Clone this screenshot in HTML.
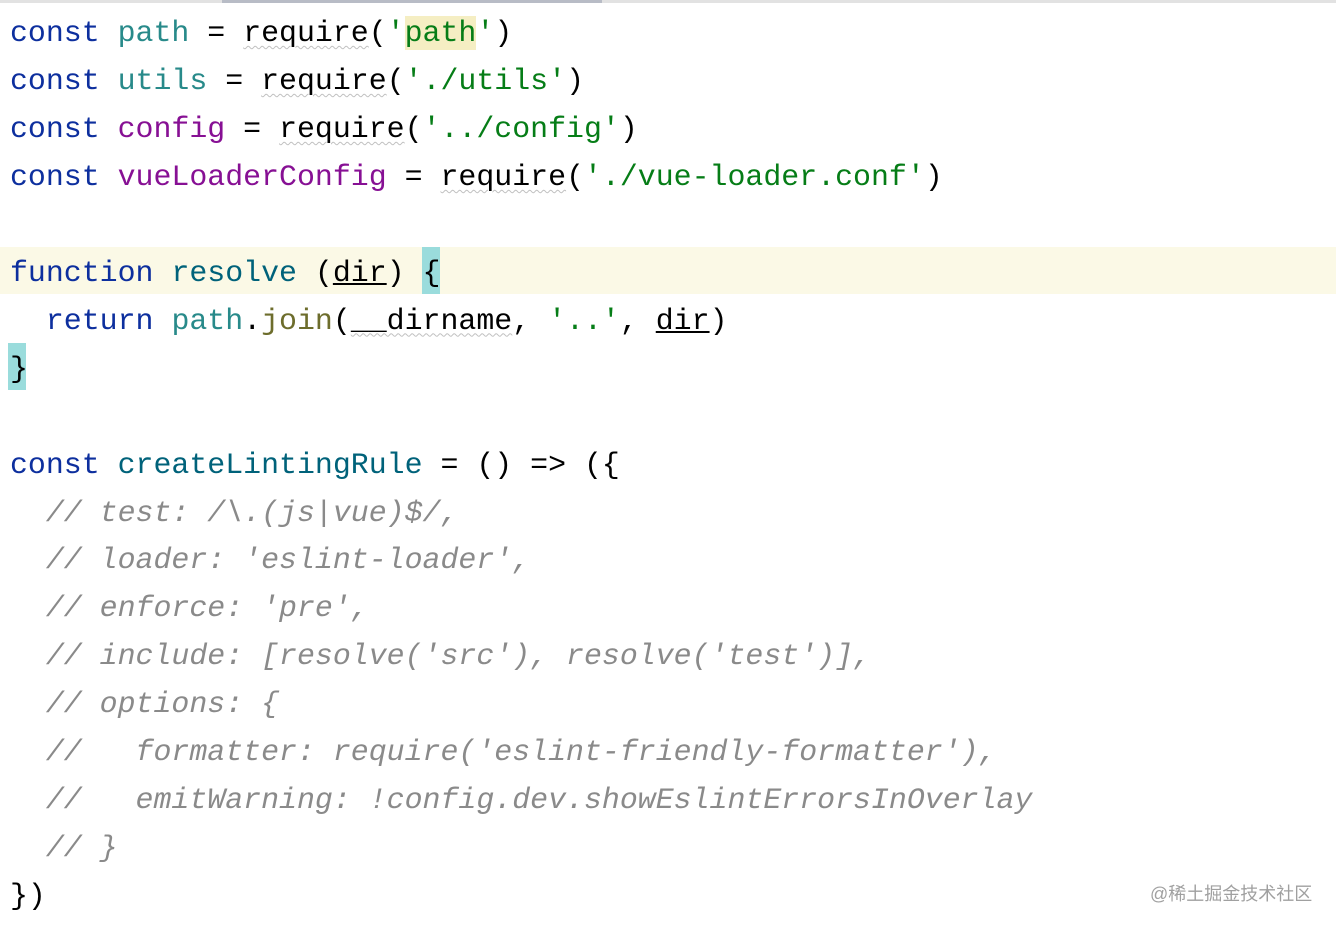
<!DOCTYPE html>
<html><head><meta charset="utf-8"><style>
html,body{margin:0;padding:0;background:#fff;width:1336px;height:928px;overflow:hidden;position:relative}
.top{position:absolute;left:0;top:0;width:1336px;height:3px;background:#e2e2e2}
.top2{position:absolute;left:222px;top:0;width:380px;height:3px;background:#b8bcc6}
.hl{position:absolute;left:0;top:247px;width:1336px;height:47px;background:#fbf9e6}
.br{position:absolute;background:#9adcdc}
.code{position:absolute;left:10px;top:10px;font-family:"Liberation Mono",monospace;font-size:29.9px;line-height:47.95px;white-space:pre;color:#000}
.k{color:#0d2f9e}.v{color:#288a8a}.p{color:#871094}.s{color:#067d17}.f{color:#00627a}.j{color:#6d6d2c}
.c{color:#8a8a8a;font-style:italic}
.u{text-decoration:underline}
.w{text-decoration:underline wavy #c0c0c0;text-decoration-thickness:1px;text-underline-offset:4px}
.sh{background:#f5eec3}
.wm{position:absolute;left:1150px;top:880px;font-family:"Liberation Sans","Noto Sans CJK SC",sans-serif;font-size:18px;color:#a0a0a0}
</style></head><body>
<div class="top"></div><div class="top2"></div>
<div class="hl"></div>
<div class="br" style="left:422px;top:247px;width:18px;height:47px"></div>
<div class="br" style="left:8px;top:343px;width:18px;height:47px"></div>
<div class="code"><span class="k">const</span> <span class="v">path</span> = <span class="w">require</span>(<span class="s">'<span class="sh">path</span>'</span>)
<span class="k">const</span> <span class="v">utils</span> = <span class="w">require</span>(<span class="s">'./utils'</span>)
<span class="k">const</span> <span class="p">config</span> = <span class="w">require</span>(<span class="s">'../config'</span>)
<span class="k">const</span> <span class="p">vueLoaderConfig</span> = <span class="w">require</span>(<span class="s">'./vue-loader.conf'</span>)

<span class="k">function</span> <span class="f">resolve</span> (<span class="u">dir</span>) {
  <span class="k">return</span> <span class="v">path</span>.<span class="j">join</span>(<span class="w">__dirname</span>, <span class="s">'..'</span>, <span class="u">dir</span>)
}

<span class="k">const</span> <span class="f">createLintingRule</span> = () => ({
  <span class="c">// test: /\.(js|vue)$/,</span>
  <span class="c">// loader: 'eslint-loader',</span>
  <span class="c">// enforce: 'pre',</span>
  <span class="c">// include: [resolve('src'), resolve('test')],</span>
  <span class="c">// options: {</span>
  <span class="c">//   formatter: require('eslint-friendly-formatter'),</span>
  <span class="c">//   emitWarning: !config.dev.showEslintErrorsInOverlay</span>
  <span class="c">// }</span>
})</div>
<div class="wm">@稀土掘金技术社区</div>
</body></html>
